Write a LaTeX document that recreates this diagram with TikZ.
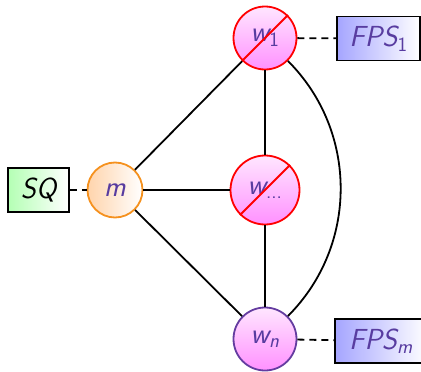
\documentclass[tikz,border=0pt]{standalone}
\usepackage{amsmath}

\definecolor{ink}{RGB}{88,60,160}
\definecolor{wtop}{RGB}{255,230,255}
\definecolor{wfill}{RGB}{255,145,255}
\definecolor{wline}{RGB}{100,60,160}
\definecolor{mline}{RGB}{245,145,30}
\definecolor{mfill}{RGB}{255,212,172}
\definecolor{sqfill}{RGB}{180,255,180}
\definecolor{fpsfill}{RGB}{165,165,255}

% sans-serif italic label text
\newcommand{\sfi}[1]{\textsf{\itshape #1}}

\begin{document}
\begin{tikzpicture}[x=1pt,y=-1pt,
  font=\fontsize{29}{33}\selectfont,
  wnode/.style={circle, draw=wline, line width=1.8pt, top color=wtop,
    bottom color=wfill, text=ink, inner sep=0pt, minimum size=63pt},
  struck/.style={wnode, draw=red},
  mnode/.style={circle, draw=mline, line width=1.8pt, left color=mfill,
    right color=white, text=ink, inner sep=0pt, minimum size=55pt},
  box/.style={draw=black, line width=1.8pt, right color=white,
    inner sep=0pt, minimum height=44pt},
  link/.style={line width=1.8pt},
  dlink/.style={line width=1.8pt, dash pattern=on 7pt off 5pt},
  slash/.style={draw=red, line width=1.8pt}]

\useasboundingbox (0,0) rectangle (421,372);

% workers
\node[struck] (w1) at (265,38) {$\sfi{w}_{\textsf{1}}$};
\node[struck, minimum size=69pt] (wd) at (265,190) {$\sfi{w}_{\textsf{...}}$};
\node[wnode] (wn) at (265,339) {$\sfi{w}_{\sfi{n}}$};

% master and its query source
\node[mnode] (m) at (115,190) {$\sfi{m}$};
\node[box, left color=sqfill, minimum width=61pt] (sq) at (38.5,190) {$\sfi{SQ}$};

% file-system boxes
\node[box, left color=fpsfill, text=ink, minimum width=83pt] (f1) at (378.5,38.5)
  {$\sfi{FPS}_{\textsf{1}}$};
\node[box, left color=fpsfill, text=ink, minimum width=92pt, anchor=west] (fm) at (334,341)
  {$\sfi{FPS}_{\sfi{m}}$};

% solid links
\draw[link] (m) -- (w1);
\draw[link] (m) -- (wd);
\draw[link] (m) -- (wn);
\draw[link] (w1) -- (wd);
\draw[link] (wd) -- (wn);
\draw[link] (w1) to[bend left=45] (wn);

% dashed links
\draw[dlink] (sq) -- (m);
\draw[dlink] (w1) -- (f1);
\draw[dlink] (wn) -- (fm);

% strike-through marks
\draw[slash] (w1.225) -- (w1.45);
\draw[slash] (wd.225) -- (wd.45);
\end{tikzpicture}
\end{document}
